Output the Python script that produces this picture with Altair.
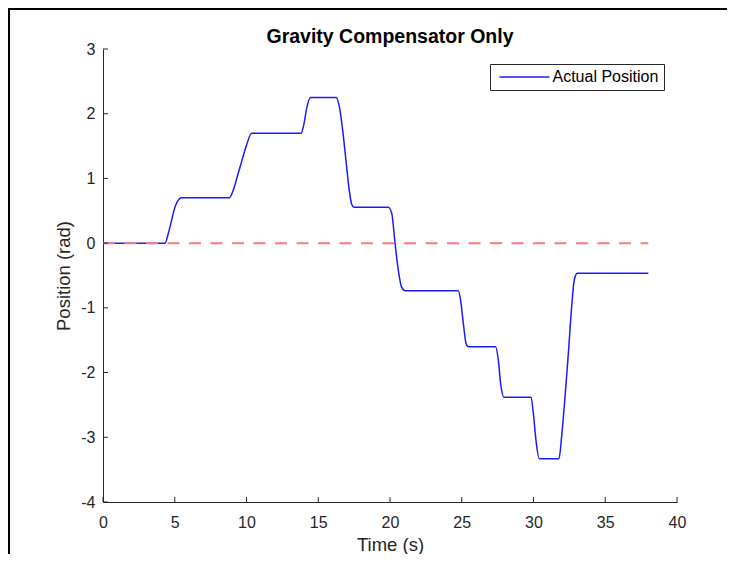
import altair as alt
import pandas as pd

# ---- data ----
time_s = [0.0, 4.32, 4.55, 4.79, 4.95, 5.13, 5.48,
          8.80, 9.08, 9.36, 9.66, 10.01, 10.36,
          13.81, 14.01, 14.19, 14.47,
          16.24, 16.47, 16.70, 16.93, 17.16, 17.33, 17.49,
          19.88, 20.12, 20.35, 20.58, 20.81, 21.05,
          24.76, 24.92, 25.11, 25.30, 25.46,
          27.36, 27.55, 27.71, 27.94,
          29.83, 29.99, 30.17, 30.40,
          31.78, 31.96, 32.20, 32.43, 32.66, 32.84, 33.05,
          38.0]
position_rad = [0.0, 0.0, 0.15, 0.36, 0.51, 0.62, 0.70,
                0.70, 0.82, 1.03, 1.26, 1.52, 1.70,
                1.70, 1.85, 2.08, 2.25,
                2.25, 2.11, 1.75, 1.28, 0.82, 0.60, 0.553,
                0.553, 0.46, 0.0, -0.42, -0.68, -0.735,
                -0.735, -0.88, -1.24, -1.55, -1.60,
                -1.60, -1.81, -2.17, -2.38,
                -2.38, -2.63, -3.04, -3.33,
                -3.33, -2.99, -2.37, -1.70, -0.98, -0.57, -0.467,
                -0.467]
ref_time = [0.0, 38.0]
ref_pos = [0.0, 0.0]
x_ticks = [0, 5, 10, 15, 20, 25, 30, 35, 40]
y_ticks = [-4, -3, -2, -1, 0, 1, 2, 3]
series_name = "Actual Position"
title_text = "Gravity Compensator Only"
x_title = "Time (s)"
y_title = "Position (rad)"

W, H = 574, 453
FONT = "Liberation Sans"
AX = "#262626"

xs = alt.Scale(domain=[0, 40], nice=False, zero=False)
ys = alt.Scale(domain=[-4, 3], nice=False, zero=False)

actual = pd.DataFrame({"t": time_s, "p": position_rad, "series": series_name})
ref = pd.DataFrame({"t": ref_time, "p": ref_pos})
xt = pd.DataFrame({"t": x_ticks})
yt = pd.DataFrame({"p": y_ticks})
one = pd.DataFrame({"k": [0]})

x_axis = alt.Axis(values=x_ticks, labelExpr="'' + datum.value", labelPadding=12, titlePadding=5)
y_axis = alt.Axis(values=y_ticks, labelExpr="'' + datum.value", labelPadding=8, titlePadding=7)

line = alt.Chart(actual).mark_line(strokeWidth=1.5, color="#1a1aff", interpolate="monotone").encode(
    x=alt.X("t:Q", scale=xs, axis=x_axis, title=x_title),
    y=alt.Y("p:Q", scale=ys, axis=y_axis, title=y_title),
    color=alt.Color("series:N",
                    scale=alt.Scale(domain=[series_name], range=["#1a1aff"]),
                    legend=alt.Legend(title=None, orient="none", legendX=387, legendY=15,
                                      symbolType="M0,0H20", symbolSize=25, symbolStrokeWidth=1.3,
                                      symbolOffset=-3.5, labelOffset=45, labelFont=FONT,
                                      labelFontSize=16, labelColor="#000000", labelLimit=0,
                                      padding=5, strokeColor=AX, fillColor="#ffffff")),
)

dashed = alt.Chart(ref).mark_line(color="#ff7878", strokeWidth=2, strokeDash=[12, 9.5]).encode(
    x=alt.X("t:Q", scale=xs, title=x_title),
    y=alt.Y("p:Q", scale=ys, title=y_title),
)

xtick = alt.Chart(xt).mark_rule(color=AX, strokeWidth=1).encode(
    x=alt.X("t:Q", scale=xs, title=x_title), y=alt.value(H), y2=alt.value(H - 5))
ytick = alt.Chart(yt).mark_rule(color=AX, strokeWidth=1).encode(
    y=alt.Y("p:Q", scale=ys, title=y_title), x=alt.value(0), x2=alt.value(5))

frame_left = alt.Chart(one).mark_rule(color="#000000", strokeWidth=2).encode(
    x=alt.value(-94), y=alt.value(-41), y2=alt.value(H + 52))
frame_top = alt.Chart(one).mark_rule(color="#000000", strokeWidth=2).encode(
    y=alt.value(-40), x=alt.value(-95), x2=alt.value(W + 60))

chart = alt.layer(line, dashed, xtick, ytick, frame_left, frame_top).properties(
    width=W, height=H,
    title=alt.Title(title_text, anchor="middle", frame="group", font=FONT, fontSize=19.5,
                    fontWeight="bold", color="#000000", baseline="bottom", offset=-59),
    autosize=alt.AutoSizeParams(type="none"),
    padding={"left": 95, "top": 41, "right": 50, "bottom": 52},
).configure(background="#ffffff").configure_view(stroke=None).configure_axis(
    grid=False, ticks=False, tickSize=0, domainColor=AX, domainWidth=1,
    labelColor=AX, labelFontSize=16, labelFont=FONT, labelFlush=False,
    titleFont=FONT, titleFontSize=18.5, titleFontWeight="normal", titleColor=AX,
)

chart.save("out.html", embed_options={"renderer": "svg", "actions": False})
